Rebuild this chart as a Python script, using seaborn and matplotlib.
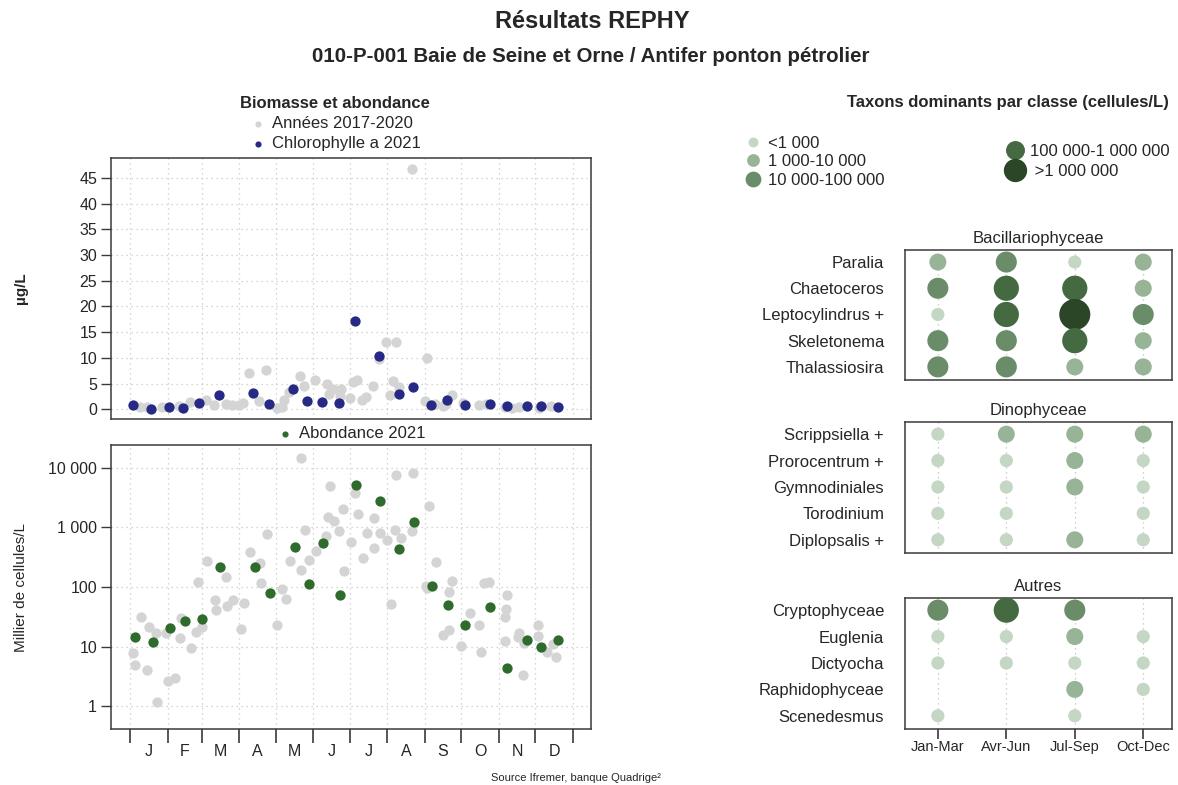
import numpy as np
import pandas as pd
import seaborn as sns
import matplotlib.pyplot as plt
from matplotlib.lines import Line2D

sns.set_theme(style="white")
plt.rcParams['font.family'] = ['Liberation Sans', 'DejaVu Sans']

# --- Chlorophylle a (µg/L), jour de l'année
chl_ref_day = [8, 14, 26, 40, 49, 62, 69, 79, 84, 90, 93, 98, 106, 112, 121, 125, 127, 131,
               140, 143, 152, 162, 164, 167, 174, 173, 181, 184, 187, 191, 194, 200, 205,
               211, 219, 214, 217, 222, 232, 245, 243, 251, 258, 260, 265, 274, 288, 293,
               309, 315, 321, 337, 347]
chl_ref_val = [0.45, 0.45, 0.45, 0.64, 1.4, 1.9, 0.77, 1.1, 0.77, 0.77, 1.16, 7.1, 1.6, 7.7,
               0.32, 0.5, 1.8, 3.4, 6.4, 4.5, 5.7, 5.0, 2.9, 3.9, 4.0, 2.6, 2.25, 5.3, 5.8,
               1.8, 2.45, 4.5, 9.85, 13.0, 13.0, 2.7, 5.5, 4.3, 46.8, 9.9, 1.6, 0.97, 0.64,
               0.97, 2.7, 1.3, 0.77, 0.97, 0.5, 0.3, 0.45, 0.3, 0.64]
chl_2021_day = [2, 17, 32, 43, 57, 73, 101, 114, 134, 146, 158, 172, 185, 205, 222, 233,
                248, 261, 276, 297, 311, 327, 339, 353]
chl_2021_val = [0.77, 0.0, 0.5, 0.26, 1.16, 2.7, 3.15, 0.97, 3.86, 1.6, 1.4, 1.16, 17.2,
                10.4, 3.0, 4.25, 0.9, 1.9, 0.84, 0.97, 0.64, 0.64, 0.58, 0.5]

# --- Abondance (milliers de cellules/L)
ab_ref_day = [2, 4, 9, 14, 15, 21, 22, 29, 31, 37, 41, 42, 50, 54, 56, 59, 63, 70, 71, 79,
              80, 85, 91, 94, 99, 107, 108, 113, 121, 125, 128, 132, 141, 141, 144, 147,
              153, 161, 163, 165, 168, 172, 175, 176, 182, 185, 188, 192, 195, 201, 201,
              206, 212, 215, 218, 219, 223, 232, 233, 244, 245, 246, 252, 258, 263, 263,
              265, 273, 280, 288, 289, 292, 296, 309, 309, 310, 311, 320, 321, 324, 325,
              336, 336, 344, 349, 351]
ab_ref_val = [7.8, 5, 32, 4, 21, 17, 1.18, 17, 2.7, 3, 14, 30, 9.4, 17.5, 120, 21.7, 270,
              60, 41, 147, 48, 60, 19.6, 55, 390, 250, 118, 770, 23.5, 94, 64, 270, 196,
              14400, 915, 280, 400, 710, 1480, 4900, 1290, 870, 2000, 182, 570, 3700, 1660,
              305, 815, 1450, 445, 790, 620, 51, 915, 7600, 675, 870, 8300, 104, 95, 2240,
              263, 15.5, 19, 81, 124, 10.3, 36, 23, 8.3, 115, 123, 12.6, 31, 43, 74, 14.8,
              17, 3.3, 11.4, 23.5, 15.2, 8, 11, 6.8]
ab_2021_day = [4, 19, 33, 45, 59, 74, 103, 115, 136, 147, 159, 173, 186, 206, 222, 234,
               249, 262, 276, 297, 311, 327, 339, 353]
ab_2021_val = [14.8, 11.9, 20.9, 27, 28.8, 215, 213, 80, 466, 114, 543, 74, 5040, 2750,
               432, 1220, 104, 49, 23.5, 47, 4.4, 12.7, 9.7, 12.7]

month_start = [0, 31, 59, 90, 120, 151, 181, 212, 243, 273, 304, 334, 365]
month_labels = ['J', 'F', 'M', 'A', 'M', 'J', 'J', 'A', 'S', 'O', 'N', 'D']

# --- Taxons dominants : classe d'abondance par trimestre (0 = absent)
periods = ['Jan-Mar', 'Avr-Jun', 'Jul-Sep', 'Oct-Dec']
bacillario = {'Paralia': [2, 3, 1, 2],
              'Chaetoceros': [3, 4, 4, 2],
              'Leptocylindrus +': [1, 4, 5, 3],
              'Skeletonema': [3, 3, 4, 2],
              'Thalassiosira': [3, 3, 2, 2]}
dinophy = {'Scrippsiella +': [1, 2, 2, 2],
           'Prorocentrum +': [1, 1, 2, 1],
           'Gymnodiniales': [1, 1, 2, 1],
           'Torodinium': [1, 1, 0, 1],
           'Diplopsalis +': [1, 1, 2, 1]}
autres = {'Cryptophyceae': [3, 4, 3, 0],
          'Euglenia': [1, 1, 2, 1],
          'Dictyocha': [1, 1, 1, 1],
          'Raphidophyceae': [0, 0, 2, 1],
          'Scenedesmus': [1, 0, 1, 0]}
class_labels = ['<1 000', '1 000-10 000', '10 000-100 000', '100 000-1 000 000', ' >1 000 000']
class_colors = {1: '#c4d6c4', 2: '#97b497', 3: '#6a8c69', 4: '#456a42', 5: '#2b4627'}
class_sizes = {1: 90, 2: 150, 3: 230, 4: 330, 5: 500}

GRAY = '#d4d4d4'
NAVY = '#262a85'
GREEN = '#2f6b2c'
SPINE = '#3a3a3a'
FS = 12

fig = plt.figure(figsize=(11.78, 7.85), dpi=100)
W, H = 1178, 785


def px_axes(left, top, right, bottom):
    return fig.add_axes([left / W, 1 - bottom / H, (right - left) / W, (bottom - top) / H])


def style_box(ax):
    for s in ax.spines.values():
        s.set_color(SPINE)
        s.set_linewidth(1.1)
        s.set_visible(True)


# ---------- Chlorophylle
ax1 = px_axes(111, 158, 591, 419)
sns.scatterplot(x=chl_ref_day, y=chl_ref_val, color=GRAY, s=55, linewidth=0, ax=ax1,
                label='Années 2017-2020')
sns.scatterplot(x=chl_2021_day, y=chl_2021_val, color=NAVY, s=55, linewidth=0, ax=ax1,
                label='Chlorophylle a 2021')
ax1.set_xlim(-16, 380)
ax1.set_ylim(-1.88, 48.88)
ax1.set_yticks(np.arange(0, 50, 5))
ax1.set_xticks(month_start)
ax1.set_xticklabels([])
ax1.tick_params(axis='x', length=0)
ax1.tick_params(axis='y', left=True, length=7, width=1, color=SPINE, labelsize=11.5, pad=3)
ax1.grid(True, linestyle=(0, (1, 3)), color='#c8c8c8', linewidth=0.9)
ax1.set_ylabel('µg/L', fontsize=11, fontweight='bold')
ax1.yaxis.set_label_coords(-0.172, 0.5)
style_box(ax1)
leg1 = ax1.legend(loc='lower center', bbox_to_anchor=(0.467, 1.0), frameon=False,
                  title='Biomasse et abondance', fontsize=FS, handletextpad=0.3,
                  labelspacing=0.32, borderaxespad=0, markerscale=0.6, handlelength=1.0)
leg1.get_title().set_fontweight('bold')
leg1.get_title().set_fontsize(FS)

# ---------- Abondance
ax2 = px_axes(111, 445, 591, 729)
sns.scatterplot(x=ab_ref_day, y=ab_ref_val, color=GRAY, s=55, linewidth=0, ax=ax2, legend=False)
sns.scatterplot(x=ab_2021_day, y=ab_2021_val, color=GREEN, s=55, linewidth=0, ax=ax2,
                label='Abondance 2021')
ax2.set_yscale('log')
ax2.set_xlim(-16, 380)
ax2.set_ylim(0.417, 24000)
ax2.set_yticks([1, 10, 100, 1000, 10000])
ax2.set_yticklabels(['1', '10', '100', '1 000', '10 000'])
ax2.minorticks_off()
ax2.set_xticks(month_start)
ax2.set_xticklabels([])
mid = [(a + b) / 2 for a, b in zip(month_start[:-1], month_start[1:])]
ax2.set_xticks(mid, minor=True)
ax2.set_xticklabels(month_labels, minor=True)
ax2.tick_params(axis='x', which='major', bottom=True, length=10, width=1.2, color=SPINE)
ax2.tick_params(axis='x', which='minor', bottom=True, length=0, labelsize=11.5, pad=11)
ax2.tick_params(axis='y', left=True, length=7, width=1, color=SPINE, labelsize=11.5, pad=3)
ax2.grid(True, which='major', linestyle=(0, (1, 3)), color='#c8c8c8', linewidth=0.9)
ax2.set_ylabel('Millier de cellules/L', fontsize=11)
ax2.yaxis.set_label_coords(-0.172, 0.5)
style_box(ax2)
ax2.legend(loc='lower center', bbox_to_anchor=(0.5, 0.99), frameon=False, fontsize=FS,
           handletextpad=0.3, borderaxespad=0, markerscale=0.6, handlelength=1.0)

# ---------- Taxons dominants
groups = [('Bacillariophyceae', bacillario, (250, 380)),
          ('Dinophyceae', dinophy, (422, 553)),
          ('Autres', autres, (598, 729))]
for i, (name, table, (top, bottom)) in enumerate(groups):
    ax = px_axes(905, top, 1172, bottom)
    taxa = list(table.keys())
    rows = []
    for t in taxa:
        for j, p in enumerate(periods):
            c = table[t][j]
            if c > 0:
                rows.append({'xi': j, 'yi': taxa.index(t), 'classe': c})
    df = pd.DataFrame(rows)
    sns.scatterplot(data=df, x='xi', y='yi', hue='classe', size='classe',
                    palette=class_colors, sizes=class_sizes, linewidth=0,
                    legend=False, ax=ax, zorder=3)
    ax.set_xlim(-0.48, 3.42)
    ax.set_ylim(len(taxa) - 0.5, -0.46)
    ax.set_xticks(range(len(periods)))
    ax.set_yticks(range(len(taxa)))
    ax.set_yticklabels(taxa)
    ax.set_xlabel('')
    ax.set_ylabel('')
    ax.grid(True, axis='x', linestyle=(0, (1, 3)), color='#c0c0c0', linewidth=0.9)
    ax.grid(False, axis='y')
    ax.tick_params(axis='y', length=0, labelsize=FS, pad=15)
    if i == len(groups) - 1:
        ax.set_xticklabels(periods)
        ax.tick_params(axis='x', bottom=True, length=7, width=1.2, color=SPINE,
                       labelsize=10.5, pad=1)
    else:
        ax.set_xticklabels([])
        ax.tick_params(axis='x', length=0)
    ax.set_title(name, fontsize=FS, pad=5)
    style_box(ax)

# légende des classes
handles = [Line2D([], [], marker='o', linestyle='', markersize=np.sqrt(class_sizes[k]) * 0.75,
                  markerfacecolor=class_colors[k], markeredgewidth=0, label=class_labels[k - 1])
           for k in range(1, 6)]
fig.legend(handles=handles[:3], loc='upper left', bbox_to_anchor=(736 / W, 1 - 129 / H),
           frameon=False, fontsize=FS, handletextpad=0.3, labelspacing=0.22,
           borderaxespad=0, handlelength=1.2)
fig.legend(handles=handles[3:], loc='upper left', bbox_to_anchor=(998 / W, 1 - 137 / H),
           frameon=False, fontsize=FS, handletextpad=0.3, labelspacing=0.3,
           borderaxespad=0, handlelength=1.2)

fig.text(1008 / W, 1 - 102 / H, 'Taxons dominants par classe (cellules/L)', ha='center',
         va='center', fontsize=FS, fontweight='bold')
fig.text(592 / W, 1 - 22 / H, 'Résultats REPHY', ha='center', va='center', fontsize=17,
         fontweight='bold')
fig.text(591 / W, 1 - 56 / H, '010-P-001 Baie de Seine et Orne / Antifer ponton pétrolier',
         ha='center', va='center', fontsize=14.8, fontweight='bold')
fig.text(576 / W, 1 - 778 / H, 'Source Ifremer, banque Quadrige²', ha='center', va='center',
         fontsize=8)

fig.savefig('out.png', dpi=100)
